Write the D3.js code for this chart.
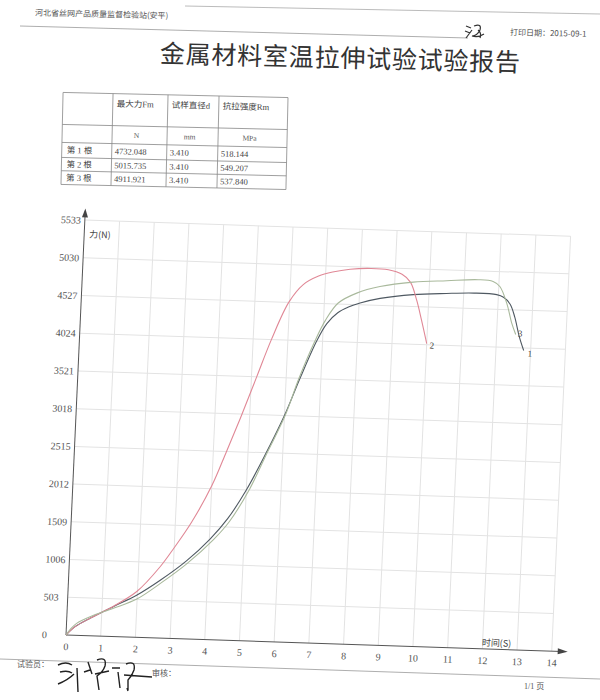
<!DOCTYPE html>
<html>
<head>
<meta charset="utf-8">
<script src="https://cdn.jsdelivr.net/npm/d3@7"></script>
<style>
  html, body { margin: 0; padding: 0; background: #fff; }
  svg { display: block; }
</style>
</head>
<body>
<svg id="chart" width="600" height="700"></svg>
<script>
// ---------------- data ----------------
const xTicks = [0,1,2,3,4,5,6,7,8,9,10,11,12,13,14];
const yTicks = [0,503,1006,1509,2012,2515,3018,3521,4024,4527,5030,5533];

const seriesNames = ["1","2","3"];
const seriesColors = ["#4f5962","#e08896","#a9b99c"];

// specimen 1 (dark)
const s1Time  = [0,0.12,0.25,0.67,1.32,1.98,2.64,3.37,4.02,4.5,5.0,5.5,6.0,6.4,6.83,7.1,7.4,7.7,8.03,8.6,9.55,10.5,11.3,11.95,12.15,12.35,12.5,12.65,12.8];
const s1Force = [0,60,115,233,398,560,770,1040,1340,1620,2010,2490,3018,3521,4024,4260,4410,4490,4550,4620,4685,4715,4732,4722,4690,4600,4430,4180,3990];
// specimen 2 (red)
const s2Time  = [0,0.12,0.25,0.67,1.0,1.33,1.98,2.62,3.0,3.47,4.0,4.38,4.77,5.15,5.53,5.98,6.37,6.8,7.2,7.7,8.3,8.8,9.2,9.45,9.65,9.82,10.0];
const s2Force = [0,60,115,233,318,405,610,950,1210,1560,2050,2515,3010,3520,4030,4530,4770,4890,4950,4995,5015,5005,4950,4850,4620,4350,4040];
// specimen 3 (green)
const s3Time  = [0,0.12,0.29,0.67,1.33,1.99,2.64,3.38,4.12,4.55,5.08,5.55,6.02,6.37,6.78,7.05,7.4,7.92,8.58,9.53,10.5,11.4,11.83,12.03,12.25,12.42,12.55];
const s3Force = [0,80,160,255,377,510,725,1000,1335,1580,2012,2515,3018,3521,4024,4300,4540,4680,4778,4851,4885,4912,4895,4831,4613,4349,4200];

// table
const tableHeaders = ["","最大力Fm","试样直径d","抗拉强度Rm"];
const tableUnits = ["","N","mm","MPa"];
const specimenNames = ["第 1 根","第 2 根","第 3 根"];
const maxForce = ["4732.048","5015.735","4911.921"];
const diameter = ["3.410","3.410","3.410"];
const tensile = ["518.144","549.207","537.840"];

// ---------------- drawing ----------------
const svg = d3.select("#chart");
const serif = "'Liberation Serif','DejaVu Serif','Noto Sans CJK SC',serif";
const cjk = "'Noto Sans CJK SC','Liberation Serif',sans-serif";

// page decorations (scan lines)
svg.append("line").attr("x1",185).attr("y1",6).attr("x2",600).attr("y2",14)
  .attr("stroke","#aaa").attr("stroke-width",0.8);
svg.append("line").attr("x1",20).attr("y1",26).attr("x2",468).attr("y2",38)
  .attr("stroke","#999").attr("stroke-width",0.8);
svg.append("line").attr("x1",0).attr("y1",659).attr("x2",600).attr("y2",679)
  .attr("stroke","#999").attr("stroke-width",0.8);

// header
svg.append("text").attr("x",35).attr("y",17).attr("font-family",cjk)
  .attr("font-size",8).attr("fill","#555").attr("transform","rotate(1.3,100,14)")
  .text("河北省丝网产品质量监督检验站(安平)");
svg.append("text").attr("x",510).attr("y",36).attr("font-family",cjk)
  .attr("font-size",8).attr("fill","#555").attr("transform","rotate(1.3,550,33)")
  .text("打印日期：2015-09-1");
// handwritten mark near date
svg.append("path").attr("d","M466,26 l5,2 M465,31 l5,2 M466,38 l6,-8 M474,26 q8,-3 6,4 q-3,6 -8,6 q6,2 12,-2 M478,30 q4,3 2,8")
  .attr("fill","none").attr("stroke","#333").attr("stroke-width",1.2);

// title
svg.append("text").attr("x",160).attr("y",67).attr("font-family",cjk)
  .attr("font-size",25).attr("fill","#333").attr("textLength",360).attr("lengthAdjust","spacing")
  .attr("transform","rotate(1.4,340,58)")
  .text("金属材料室温拉伸试验试验报告");

// table
const colX = [62,112,167,218,287];
const rowY = [95,127,145,160,173.3,187];
const tbl = svg.append("g").attr("transform","rotate(1.3,175,141)");
rowY.forEach(yy => tbl.append("line").attr("x1",colX[0]).attr("x2",colX[4]).attr("y1",yy).attr("y2",yy)
  .attr("stroke","#888").attr("stroke-width",0.8));
colX.forEach(xx => tbl.append("line").attr("x1",xx).attr("x2",xx).attr("y1",rowY[0]).attr("y2",rowY[5])
  .attr("stroke","#888").attr("stroke-width",0.8));
tableHeaders.forEach((h,i) => { if(h) tbl.append("text").attr("x",colX[i]+4).attr("y",108)
  .attr("font-family",serif).attr("font-size",8.5).attr("fill","#444").text(h); });
tableUnits.forEach((u,i) => { if(u) tbl.append("text").attr("x",(colX[i]+colX[i+1])/2-3).attr("y",139)
  .attr("font-family",serif).attr("font-size",7.5).attr("fill","#555").attr("text-anchor","middle").text(u); });
const rowsData = specimenNames.map((n,i) => [n, maxForce[i], diameter[i], tensile[i]]);
rowsData.forEach((r,ri) => r.forEach((v,ci) => tbl.append("text")
  .attr("x",colX[ci]+(ci===0?5:3)).attr("y",(rowY[ri+2]+rowY[ri+3])/2+3)
  .attr("font-family",serif).attr("font-size",8.5).attr("fill","#444").text(v)));

// chart (skewed like the scan)
const a = Math.PI/180;
const alpha = 1.9*a, beta = 2.6*a;
const g = svg.append("g").attr("transform",
  `matrix(${Math.cos(alpha)},${Math.sin(alpha)},${-Math.sin(beta)},${Math.cos(beta)},66,635)`);

const x = d3.scaleLinear().domain([0,14]).range([0,486]);
const y = d3.scaleLinear().domain([0,5533]).range([0,-415.4]);

// grid
g.append("g").selectAll("line").data(xTicks.slice(1)).join("line")
  .attr("x1",d=>x(d)).attr("x2",d=>x(d)).attr("y1",y(0)).attr("y2",y(5533))
  .attr("stroke","#e3e3e3").attr("stroke-width",1);
g.append("g").selectAll("line").data(yTicks.slice(1)).join("line")
  .attr("x1",x(0)).attr("x2",x(14)).attr("y1",d=>y(d)).attr("y2",d=>y(d))
  .attr("stroke","#e3e3e3").attr("stroke-width",1);

// axes
const xAxis = g.append("g").call(d3.axisBottom(x).tickValues(xTicks).tickSize(0).tickPadding(8).tickFormat(d3.format("d")));
xAxis.select(".domain").remove();
xAxis.selectAll("text").attr("font-family",serif).attr("font-size",10).attr("fill","#555");
const yAxis = g.append("g").call(d3.axisLeft(y).tickValues(yTicks).tickSize(0).tickFormat(d3.format("d")));
yAxis.select(".domain").remove();
yAxis.selectAll("text").attr("x",-24).attr("text-anchor","start")
  .attr("font-family",serif).attr("font-size",10).attr("fill","#555");

g.append("line").attr("x1",0).attr("y1",0).attr("x2",0).attr("y2",-424).attr("stroke","#555").attr("stroke-width",1);
g.append("path").attr("d","M-3,-418 L3,-418 L0,-427 Z").attr("fill","#444");
g.append("line").attr("x1",0).attr("y1",0).attr("x2",496).attr("y2",0).attr("stroke","#555").attr("stroke-width",1);
g.append("path").attr("d","M492,-3 L492,3 L502,0 Z").attr("fill","#444");

g.append("text").attr("x",5).attr("y",-398).attr("font-family",cjk).attr("font-size",9)
  .attr("fill","#444").text("力(N)");
g.append("text").attr("x",x(12.4)).attr("y",-3).attr("text-anchor","middle").attr("font-family",cjk)
  .attr("font-size",9).attr("fill","#444").text("时间(S)");

// curves
const series = [
  {name:seriesNames[0], color:seriesColors[0], pts:d3.zip(s1Time,s1Force), dx:4, dy:6},
  {name:seriesNames[1], color:seriesColors[1], pts:d3.zip(s2Time,s2Force), dx:3, dy:5},
  {name:seriesNames[2], color:seriesColors[2], pts:d3.zip(s3Time,s3Force), dx:2, dy:2}
];
const line = d3.line().x(d=>x(d[0])).y(d=>y(d[1])).curve(d3.curveCatmullRom.alpha(0.5));
series.forEach(s => {
  g.append("path").attr("d",line(s.pts)).attr("fill","none")
    .attr("stroke",s.color).attr("stroke-width",1.1);
  const last = s.pts[s.pts.length-1];
  g.append("text").attr("x",x(last[0])+s.dx).attr("y",y(last[1])+s.dy)
    .attr("font-family",serif).attr("font-size",9).attr("fill","#444").text(s.name);
});

// footer
svg.append("text").attr("x",17).attr("y",667).attr("font-family",cjk).attr("font-size",8)
  .attr("fill","#555").text("试验员：");
svg.append("text").attr("x",152).attr("y",676).attr("font-family",cjk).attr("font-size",8)
  .attr("fill","#555").text("审核：");
svg.append("text").attr("x",524).attr("y",689).attr("font-family",serif).attr("font-size",8)
  .attr("fill","#555").text("1/1 页");
// handwritten signature
svg.append("path").attr("d",
  "M58,665 q8,-4 14,0 M60,672 q8,-2 12,1 M58,684 q10,-4 16,-10 M77,668 l1,24 M84,672 l6,-2 M88,662 l4,12 M97,660 q10,-4 8,6 q-2,6 -8,10 l2,14 M95,674 l14,-3 M112,668 l8,0 M118,672 l2,16 M126,664 q10,-4 8,6 q-2,6 -6,10 l0,10 M124,675 l28,2 M127,688 l1,3")
  .attr("fill","none").attr("stroke","#222").attr("stroke-width",1.4);
</script>
</body>
</html>
